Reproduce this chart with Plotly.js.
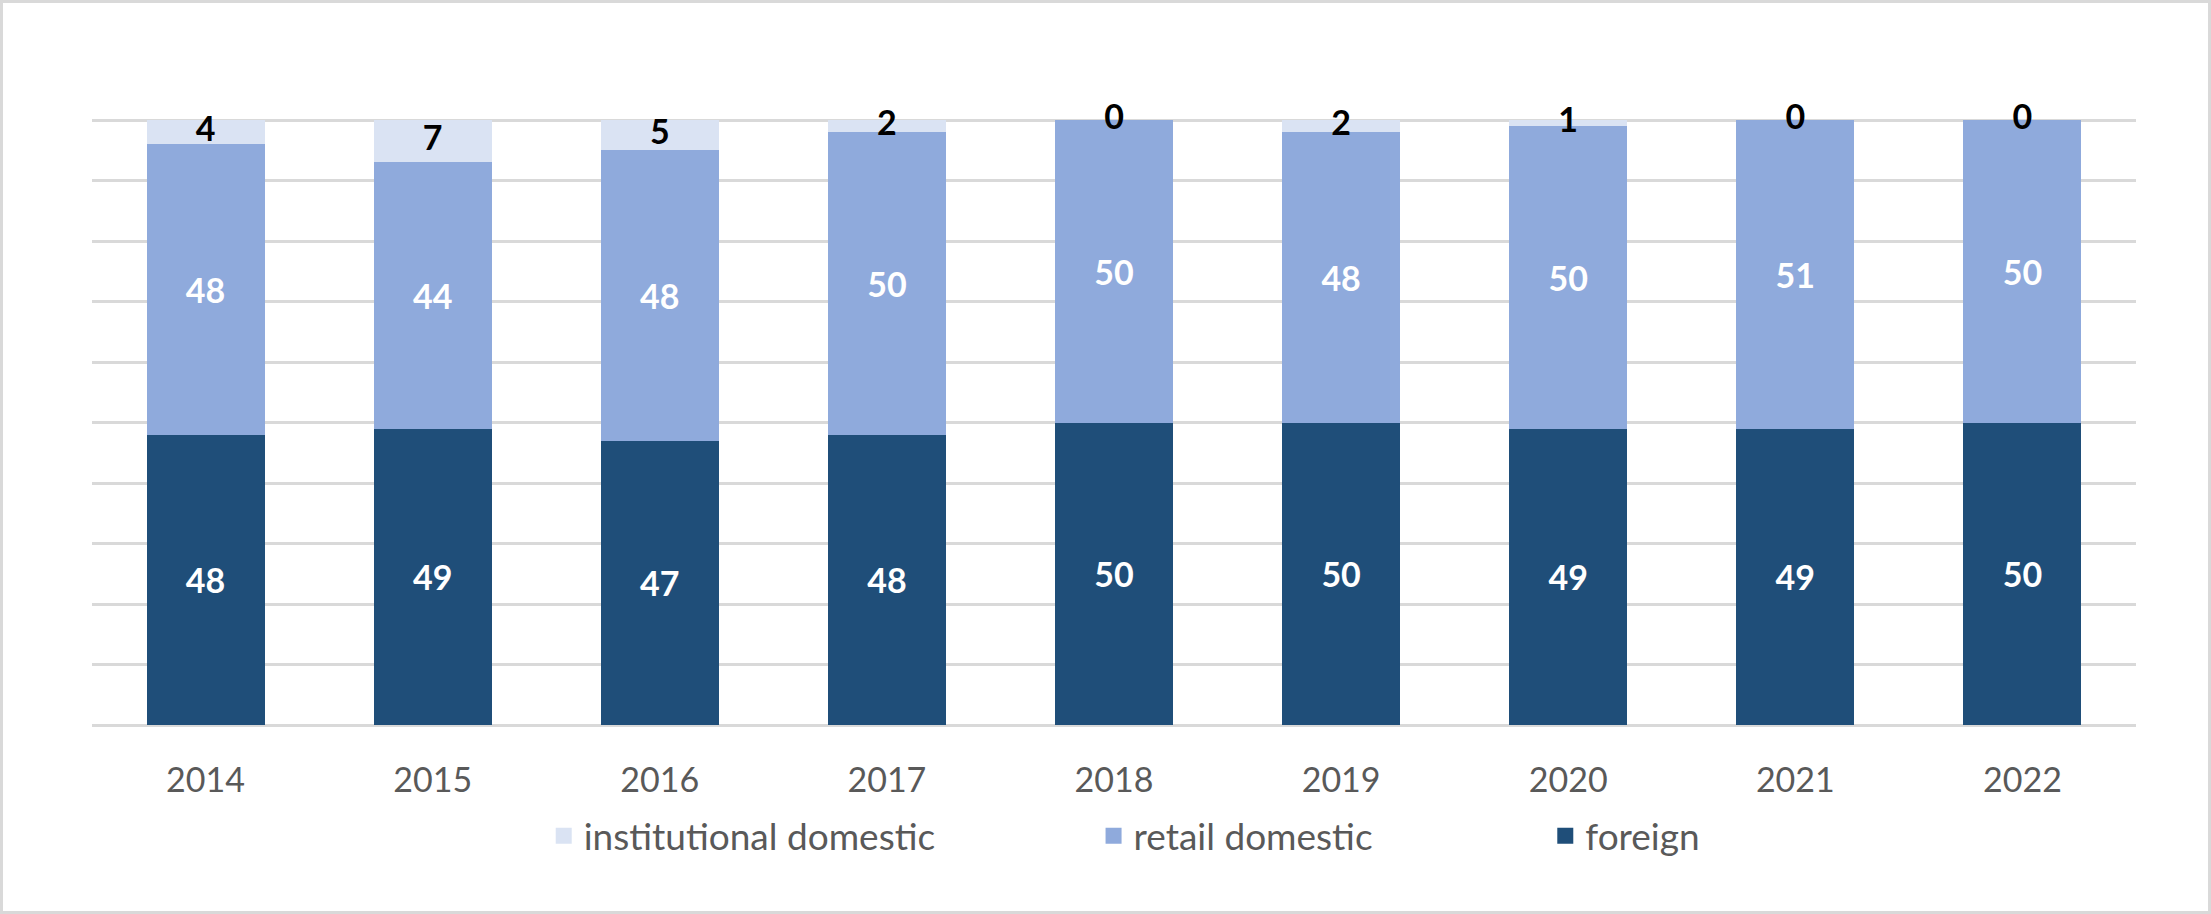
<!DOCTYPE html>
<html>
<head>
<meta charset="utf-8">
<script src="https://cdn.plot.ly/plotly-3.0.1.min.js"></script>
<style>
  html, body { margin: 0; padding: 0; background: #fff; }
  #wrap { position: relative; width: 2211px; height: 914px; }
  #chart { position: absolute; left: 0; top: 0; width: 2211px; height: 914px; }
  #frame { position: absolute; left: 0; top: 0; width: 2211px; height: 914px; box-sizing: border-box; border: 3px solid #d9d9d9; pointer-events: none; }
</style>
</head>
<body>
<div id="wrap">
  <div id="chart"></div>
  <div id="frame"></div>
</div>
<script>
const years = ['2014', '2015', '2016', '2017', '2018', '2019', '2020', '2021', '2022'];
const foreign = [48, 49, 47, 48, 50, 50, 49, 49, 50];
const retailDomestic = [48, 44, 48, 50, 50, 48, 50, 51, 50];
const institutionalDomestic = [4, 7, 5, 2, 0, 2, 1, 0, 0];
const seriesNames = ['foreign', 'retail domestic', 'institutional domestic'];
const seriesColors = ['#1f4e79', '#8faadc', '#dae3f3'];

const fontFamily = 'Lato, "Open Sans", sans-serif';
const labelFont = { family: fontFamily, size: 34, color: '#ffffff', weight: 'bold' };

const traces = [
  {
    type: 'bar', name: seriesNames[0], x: years, y: foreign,
    marker: { color: seriesColors[0] }, showlegend: false,
    text: foreign.map(String), textposition: 'inside', insidetextanchor: 'middle',
    textangle: 0, textfont: labelFont, constraintext: 'none', hoverinfo: 'x+y+name'
  },
  {
    type: 'bar', name: seriesNames[1], x: years, y: retailDomestic,
    marker: { color: seriesColors[1] }, showlegend: false,
    text: retailDomestic.map(String), textposition: 'inside', insidetextanchor: 'middle',
    textangle: 0, textfont: labelFont, constraintext: 'none', hoverinfo: 'x+y+name'
  },
  {
    type: 'bar', name: seriesNames[2], x: years, y: institutionalDomestic,
    marker: { color: seriesColors[2] }, showlegend: false,
    textposition: 'none', hoverinfo: 'x+y+name'
  },
  {
    type: 'scatter', mode: 'text', x: years,
    y: years.map((_, i) => foreign[i] + retailDomestic[i] + institutionalDomestic[i] / 2),
    text: institutionalDomestic.map(String), textposition: 'middle center',
    textfont: { family: fontFamily, size: 34, color: '#000000', weight: 'bold' },
    showlegend: false, hoverinfo: 'skip', cliponaxis: false
  }
];

// legend-only entries with larger square swatches, one legend each
const legendIds = ['legend', 'legend2', 'legend3'];
[2, 1, 0].forEach((k, j) => {
  traces.push({
    type: 'scatter', mode: 'markers', name: seriesNames[k],
    x: [null], y: [null], legend: legendIds[j],
    marker: { symbol: 'square', size: 22, color: seriesColors[k] },
    showlegend: true, hoverinfo: 'skip'
  });
});

const legendBase = {
  orientation: 'h', itemsizing: 'trace', xanchor: 'left',
  y: -0.183, yanchor: 'middle', bgcolor: 'rgba(0,0,0,0)',
  font: { family: fontFamily, size: 37, color: '#595959' }
};

const layout = {
  width: 2211, height: 914,
  margin: { l: 92, r: 75, t: 118, b: 189 },
  paper_bgcolor: '#ffffff', plot_bgcolor: '#ffffff',
  barmode: 'stack', bargap: 0.48,
  font: { family: fontFamily, size: 34, color: '#595959' },
  xaxis: {
    type: 'category', showgrid: false, showline: false, ticks: '',
    ticklabelstandoff: 32,
    tickfont: { family: fontFamily, size: 34, color: '#595959' }
  },
  yaxis: {
    range: [0, 100.35], tick0: 0, dtick: 10, showticklabels: false, ticks: '',
    showgrid: true, gridcolor: '#d9d9d9', gridwidth: 3,
    zeroline: true, zerolinecolor: '#d9d9d9', zerolinewidth: 3
  },
  legend: Object.assign({}, legendBase, { x: 0.221 }),
  legend2: Object.assign({}, legendBase, { x: 0.490 }),
  legend3: Object.assign({}, legendBase, { x: 0.711 }),
  showlegend: true
};

Plotly.newPlot('chart', traces, layout, { displayModeBar: false, staticPlot: true });
</script>
</body>
</html>
